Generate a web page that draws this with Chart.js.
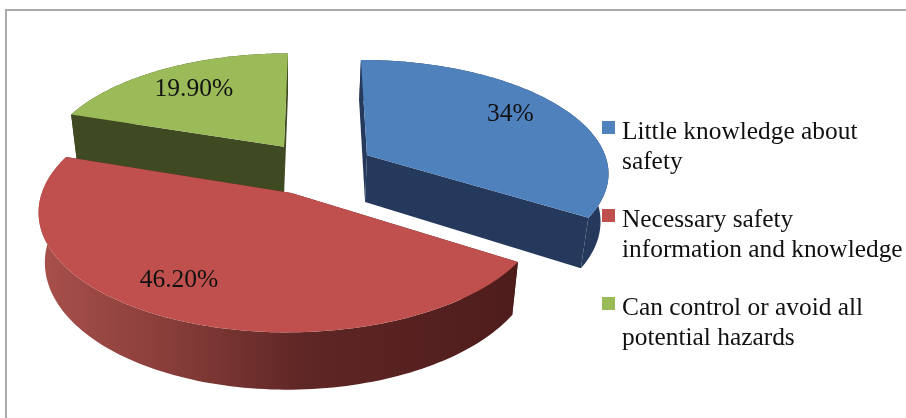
<!DOCTYPE html>
<html>
<head>
<meta charset="utf-8">
<title>Safety knowledge</title>
<script src="https://cdn.jsdelivr.net/npm/chart.js@4"></script>
<style>
  html, body { margin: 0; padding: 0; background: #fff; }
  #wrap { position: relative; width: 906px; height: 418px; overflow: hidden; }
  #frame { position: absolute; left: 5px; top: 9px; right: -5px; bottom: -5px; border: 2px solid #aaa; }
  #myChart { position: absolute; left: 0; top: 0; }
  #legend { position: absolute; left: 602px; top: 115px; font: 25.4px/30px "Liberation Serif", serif; color: #111; }
  #legend .item { position: relative; padding-left: 20px; margin-bottom: 28px; white-space: pre; }
  #legend .box { position: absolute; left: 0; top: 6px; width: 13px; height: 13px; }
</style>
</head>
<body>
<div id="wrap">
  <div id="frame"></div>
  <canvas id="myChart" width="906" height="418"></canvas>
  <div id="legend"></div>
</div>
<script>
var categories = ["Little knowledge about\nsafety", "Necessary safety\ninformation and knowledge", "Can control or avoid all\npotential hazards"];
var values = [34, 46.2, 19.9];
var topColors = ["#4f81bd", "#c0504d", "#9bbb59"];
var sideColors = ["#25395c", "#521e1f", "#3f4a22"];

// pie lies flat on a tilted plane, these set up the camera
var view = {
  cx: 317, cy: 168,
  tilt: 0.463,
  perspective: 0.00058,
  radius: 242,
  explode: 58,
  depth: 47.5,
  shrink: 0.975,
  shrinkX: 290
};
var labelNudge = [[-7, -3], [-18, -5], [5, 4]];

function project(u, v, lower) {
  var w = 1 + view.perspective * v;
  var x = view.cx + u / w;
  var y = view.cy - view.tilt * v / w;
  if (lower) {
    x = view.shrinkX + (x - view.shrinkX) * view.shrink;
    y += view.depth / w;
  }
  return [x, y];
}

// point of a slice in screen space, r is a fraction of the radius
function slicePoint(arc, angle, r, lower) {
  var mid = (arc.startAngle + arc.endAngle) / 2;
  var u = view.explode * Math.cos(mid) + view.radius * r * Math.cos(angle);
  var v = -(view.explode * Math.sin(mid) + view.radius * r * Math.sin(angle));
  return project(u, v, lower);
}

function rimPoints(arc, lower) {
  var pts = [];
  var steps = 120;
  for (var i = 0; i <= steps; i++) {
    var a = arc.startAngle + (arc.endAngle - arc.startAngle) * i / steps;
    pts.push(slicePoint(arc, a, 1, lower));
  }
  return pts;
}

function fillPath(ctx, pts, color) {
  ctx.beginPath();
  ctx.moveTo(pts[0][0], pts[0][1]);
  for (var i = 1; i < pts.length; i++) {
    ctx.lineTo(pts[i][0], pts[i][1]);
  }
  ctx.closePath();
  ctx.fillStyle = color;
  ctx.fill();
}

function drawWalls(ctx, arc, color, rimColor) {
  var apexTop = slicePoint(arc, 0, 0, false);
  var apexLow = slicePoint(arc, 0, 0, true);
  var top = rimPoints(arc, false);
  var low = rimPoints(arc, true);
  fillPath(ctx, [apexTop, top[0], low[0], apexLow], color);
  fillPath(ctx, [apexTop, top[top.length - 1], low[low.length - 1], apexLow], color);
  fillPath(ctx, top.concat(low.slice().reverse()), rimColor);
}

var pie3d = {
  id: "pie3d",
  beforeDatasetsDraw: function(chart) {
    var ctx = chart.ctx;
    var arcs = chart.getDatasetMeta(0).data;

    // red rim goes from lit on the left to dark on the right
    var redRim = ctx.createLinearGradient(40, 0, 515, 0);
    redRim.addColorStop(0, "#a8504c");
    redRim.addColorStop(0.25, "#8b3f3b");
    redRim.addColorStop(0.55, "#5f2725");
    redRim.addColorStop(1, "#4f1c1c");
    var rims = [sideColors[0], redRim, sideColors[2]];

    // paint back to front
    var order = [0, 2, 1];
    order.forEach(function(i) {
      var arc = arcs[i];
      drawWalls(ctx, arc, sideColors[i], rims[i]);
      fillPath(ctx, [slicePoint(arc, 0, 0, false)].concat(rimPoints(arc, false)), topColors[i]);
    });

    ctx.fillStyle = "#111";
    ctx.font = "25.5px 'Liberation Serif', serif";
    ctx.textAlign = "center";
    ctx.textBaseline = "middle";
    arcs.forEach(function(arc, i) {
      var mid = (arc.startAngle + arc.endAngle) / 2;
      var p = slicePoint(arc, mid, 0.77, false);
      var text = values[i] % 1 ? values[i].toFixed(2) + "%" : values[i] + "%";
      ctx.fillText(text, p[0] + labelNudge[i][0], p[1] + labelNudge[i][1]);
    });

    return false;
  }
};

var chart = new Chart(document.getElementById("myChart"), {
  type: "pie",
  data: {
    labels: categories,
    datasets: [{ data: values, backgroundColor: topColors }]
  },
  options: {
    responsive: false,
    animation: false,
    plugins: {
      legend: { display: false },
      tooltip: { enabled: false }
    }
  },
  plugins: [pie3d]
});

var legend = document.getElementById("legend");
categories.forEach(function(name, i) {
  var item = document.createElement("div");
  item.className = "item";
  item.textContent = name;
  var box = document.createElement("span");
  box.className = "box";
  box.style.background = topColors[i];
  item.appendChild(box);
  legend.appendChild(item);
});
</script>
</body>
</html>
